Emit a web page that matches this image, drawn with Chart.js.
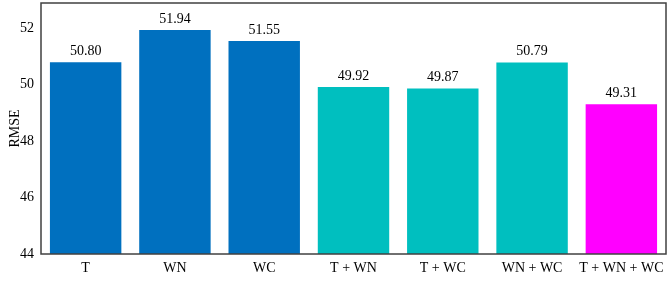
<!DOCTYPE html>
<html><head><meta charset="utf-8">
<script src="https://cdn.jsdelivr.net/npm/chart.js@4.4.1/dist/chart.umd.min.js"></script>
<style>html,body{margin:0;padding:0;background:#fff}#wrap{width:669px;height:282px}</style>
</head><body><div id="wrap"><canvas id="c"></canvas></div>
<script>
const categories = ["T", "WN", "WC", "T + WN", "T + WC", "WN + WC", "T + WN + WC"];
const rmseValues = [50.80, 51.94, 51.55, 49.92, 49.87, 50.79, 49.31];
const barColors = ["#0070BF", "#0070BF", "#0070BF", "#00BFBF", "#00BFBF", "#00BFBF", "#FF00FF"];
const yTicks = [44, 46, 48, 50, 52];

const FONT = "'Liberation Serif', 'Times New Roman', serif";

const boxPlugin = {
  id: 'box',
  afterDraw(chart) {
    const {ctx, chartArea: a} = chart;
    ctx.save();
    ctx.strokeStyle = '#404040';
    ctx.lineWidth = 1.5;
    ctx.strokeRect(a.left, a.top, a.right - a.left, a.bottom - a.top);
    ctx.restore();
  }
};
const labelPlugin = {
  id: 'vals',
  afterDatasetsDraw(chart) {
    const {ctx} = chart;
    const meta = chart.getDatasetMeta(0);
    ctx.save();
    ctx.font = '14px ' + FONT;
    ctx.fillStyle = '#000';
    ctx.textAlign = 'center';
    ctx.textBaseline = 'bottom';
    meta.data.forEach((bar, i) => {
      ctx.fillText(rmseValues[i].toFixed(2), bar.x, bar.y - 4);
    });
    ctx.restore();
  }
};

new Chart(document.getElementById('c'), {
  type: 'bar',
  data: {
    labels: categories,
    datasets: [{
      data: rmseValues,
      backgroundColor: barColors,
      borderWidth: 0,
      barPercentage: 0.8,
      categoryPercentage: 1.0
    }]
  },
  options: {
    responsive: true,
    maintainAspectRatio: false,
    animation: false,
    layout: {padding: {top: 3, right: 3, left: 0, bottom: 0}},
    plugins: {legend: {display: false}, tooltip: {enabled: false}},
    scales: {
      x: {
        grid: {display: false, drawTicks: false},
        border: {display: false},
        ticks: {color: '#000', font: {family: FONT, size: 14}, maxRotation: 0, autoSkip: false, padding: 6},
        afterFit(s) { s.height = 28; s.paddingLeft = 0; s.paddingRight = 0; }
      },
      y: {
        min: 44, max: 52.9,
        grid: {display: false, drawTicks: false},
        border: {display: false},
        afterBuildTicks(s) { s.ticks = yTicks.map(v => ({value: v})); },
        ticks: {color: '#000', font: {family: FONT, size: 14}, padding: 7},
        title: {display: true, text: 'RMSE', color: '#000', font: {family: FONT, size: 14}, padding: {top: 7, bottom: 0}},
        afterFit(s) { s.width = 41; s.paddingTop = 0; s.paddingBottom = 0; }
      }
    }
  },
  plugins: [boxPlugin, labelPlugin]
});
</script></body></html>
